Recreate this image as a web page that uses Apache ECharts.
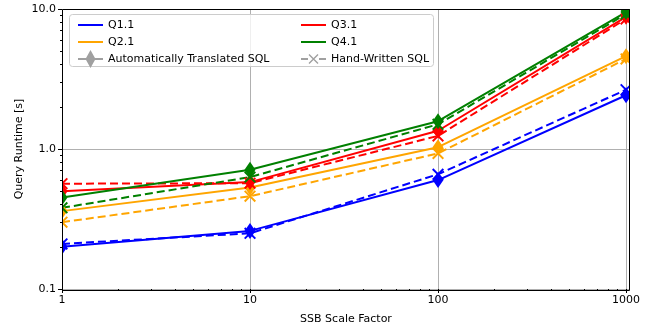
<!DOCTYPE html>
<html><head><meta charset="utf-8">
<script src="https://cdn.jsdelivr.net/npm/echarts@6/dist/echarts.min.js"></script>
<style>html,body{margin:0;padding:0;background:#fff}#c{width:650px;height:330px}</style>
</head><body><div id="c"></div>
<script>
// ---- data ----
const scaleFactors = [1, 10, 100, 1000];
const q11Auto = [0.20, 0.26, 0.60, 2.42];
const q11Hand = [0.21, 0.25, 0.66, 2.65];
const q21Auto = [0.36, 0.53, 1.03, 4.6];
const q21Hand = [0.30, 0.46, 0.93, 4.4];
const q31Auto = [0.50, 0.58, 1.35, 8.8];
const q31Hand = [0.565, 0.57, 1.24, 8.5];
const q41Auto = [0.45, 0.71, 1.58, 9.5];
const q41Hand = [0.38, 0.63, 1.50, 9.2];
const queryNames = ['Q1.1', 'Q2.1', 'Q3.1', 'Q4.1'];
const xMajorTicks = [1, 10, 100, 1000];
const xMinorTicks = [2, 3, 4, 5, 6, 7, 8, 9, 20, 30, 40, 50, 60, 70, 80, 90, 200, 300, 400, 500, 600, 700, 800, 900];
const yMajorTicks = [0.1, 1, 10];
const yMinorTicks = [0.2, 0.3, 0.4, 0.5, 0.6, 0.7, 0.8, 0.9, 2, 3, 4, 5, 6, 7, 8, 9];
const variantNames = ['Automatically Translated SQL', 'Hand-Written SQL'];

// ---- style ----
const colors = ['#0000ff', '#ffa500', '#ff0000', '#008000'];
const gray = '#a0a0a0';
const FONT = 'DejaVu Sans';
const G = { left: 62, right: 20, top: 9, bottom: 39, W: 650, H: 330 };

function xPath(cx, cy, h, t) {
  const o = t / Math.SQRT2;
  const f = v => v.toFixed(2);
  const d1 = [[cx - h + o, cy - h - o], [cx + h + o, cy + h - o], [cx + h - o, cy + h + o], [cx - h - o, cy - h + o]];
  const d2 = [[cx + h + o, cy - h + o], [cx - h + o, cy + h + o], [cx - h - o, cy + h - o], [cx + h - o, cy - h - o]];
  const p = pts => 'M' + pts.map(q => f(q[0]) + ',' + f(q[1])).join('L') + 'Z';
  return p(d1) + p(d2);
}
const xSymbol = 'path://' + xPath(10, 10, 5, 0.9);
const lineIcon = 'path://M0,8H25V10H0Z M0,0L0.01,0L0,0.01Z M0,18L0.01,18L0,17.99Z';
const autoIcon = 'path://M0,8H25V10H0Z M12.5,0L17.5,9L12.5,18L7.5,9Z';
const handIcon = 'path://M0,8H7V10H0Z M18,8H25V10H18Z ' + xPath(12.5, 9, 4.5, 0.7) + ' M0,0L0.01,0L0,0.01Z M0,18L0.01,18L0,17.99Z';

const groups = [[q11Auto, q11Hand], [q21Auto, q21Hand], [q31Auto, q31Hand], [q41Auto, q41Hand]];
const series = [];
groups.forEach((g, i) => {
  series.push({
    name: queryNames[i] + ' auto', type: 'line', xAxisIndex: 0, yAxisIndex: 0,
    data: scaleFactors.map((x, k) => [x, g[0][k]]),
    symbol: 'diamond', symbolSize: [11, 16], showAllSymbol: true,
    lineStyle: { color: colors[i], width: 2 }, itemStyle: { color: colors[i] },
    clip: false, animation: false, z: 3
  });
  series.push({
    name: queryNames[i] + ' hand', type: 'line', xAxisIndex: 0, yAxisIndex: 0,
    data: scaleFactors.map((x, k) => [x, g[1][k]]),
    symbol: xSymbol, symbolSize: 12, showAllSymbol: true,
    lineStyle: { color: colors[i], width: 2, type: [8, 4] }, itemStyle: { color: colors[i] },
    clip: false, animation: false, z: 3
  });
});
queryNames.forEach((n, i) => series.push({ name: n, type: 'line', data: [], itemStyle: { color: colors[i] } }));
variantNames.forEach(n => series.push({ name: n, type: 'line', data: [], itemStyle: { color: gray } }));

const axisText = { fontFamily: FONT, fontSize: 11, color: '#000' };
const legendBase = {
  orient: 'vertical', top: 11, itemWidth: 25, itemHeight: 18, itemGap: -1,
  textStyle: { fontFamily: FONT, fontSize: 11, color: '#000', lineHeight: 18 },
  selectedMode: false, z: 6
};
const hidden = { axisLine: { show: false }, axisTick: { show: false }, axisLabel: { show: false }, splitLine: { show: false } };
const xBase = { type: 'log', logBase: 10, min: 1, max: 1050, position: 'bottom' };
const yBase = { type: 'log', logBase: 10, min: 0.1, max: 10, position: 'left' };

const option = {
  animation: false,
  grid: { left: G.left, right: G.right, top: G.top, bottom: G.bottom },
  xAxis: [
    { ...xBase, ...hidden, z: 1,
      splitLine: { show: true, lineStyle: { color: '#b0b0b0', width: 1 } },
      axisTick: { show: false, customValues: xMajorTicks } },
    { ...xBase, ...hidden, z: 10,
      name: 'SSB Scale Factor', nameLocation: 'middle', nameGap: 25, nameMoveOverlap: false, nameTextStyle: axisText,
      axisTick: { show: true, length: 4, customValues: xMajorTicks, lineStyle: { color: '#000' } },
      axisLabel: { show: true, customValues: xMajorTicks, margin: 6, formatter: v => String(Math.round(v)), ...axisText } },
    { ...xBase, ...hidden, z: 10,
      axisTick: { show: true, length: 2, customValues: xMinorTicks, lineStyle: { color: '#000' } } }
  ],
  yAxis: [
    { ...yBase, ...hidden, z: 1,
      splitLine: { show: true, lineStyle: { color: '#b0b0b0', width: 1 } },
      axisTick: { show: false, customValues: yMajorTicks } },
    { ...yBase, ...hidden, z: 10,
      name: 'Query Runtime [s]', nameLocation: 'middle', nameGap: 37, nameMoveOverlap: false, nameTextStyle: axisText,
      axisTick: { show: true, length: 4, customValues: yMajorTicks, lineStyle: { color: '#000' } },
      axisLabel: { show: true, customValues: yMajorTicks, margin: 6, formatter: v => v.toFixed(1), ...axisText } },
    { ...yBase, ...hidden, z: 10,
      axisTick: { show: true, length: 2, customValues: yMinorTicks, lineStyle: { color: '#000' } } }
  ],
  legend: [
    { ...legendBase, left: 73,
      data: [{ name: 'Q1.1', icon: lineIcon }, { name: 'Q2.1', icon: lineIcon }, { name: variantNames[0], icon: autoIcon }] },
    { ...legendBase, left: 296,
      data: [{ name: 'Q3.1', icon: lineIcon }, { name: 'Q4.1', icon: lineIcon }, { name: variantNames[1], icon: handIcon }] }
  ],
  graphic: [
    // white masks outside the plot area (clip markers like the original)
    { type: 'rect', z: 9, silent: true, shape: { x: 0, y: 0, width: G.left, height: G.H }, style: { fill: '#fff' } },
    { type: 'rect', z: 9, silent: true, shape: { x: G.W - G.right, y: 0, width: G.right, height: G.H }, style: { fill: '#fff' } },
    { type: 'rect', z: 9, silent: true, shape: { x: 0, y: 0, width: G.W, height: G.top }, style: { fill: '#fff' } },
    { type: 'rect', z: 9, silent: true, shape: { x: 0, y: G.H - G.bottom, width: G.W, height: G.bottom }, style: { fill: '#fff' } },
    // axes frame
    { type: 'rect', z: 11, silent: true,
      shape: { x: G.left + 0.5, y: G.top + 0.5, width: G.W - G.left - G.right - 1, height: G.H - G.top - G.bottom - 1 },
      style: { fill: 'none', stroke: '#000', lineWidth: 1 } },
    // legend frame
    { type: 'rect', z: 5, silent: true,
      shape: { x: 69.5, y: 14.5, width: 364, height: 52, r: 3 },
      style: { fill: 'rgba(255,255,255,0.8)', stroke: '#cccccc', lineWidth: 1 } }
  ],
  series: series
};
const chart = echarts.init(document.getElementById('c'), null, { renderer: 'canvas' });
chart.setOption(option);
</script>
</body></html>
